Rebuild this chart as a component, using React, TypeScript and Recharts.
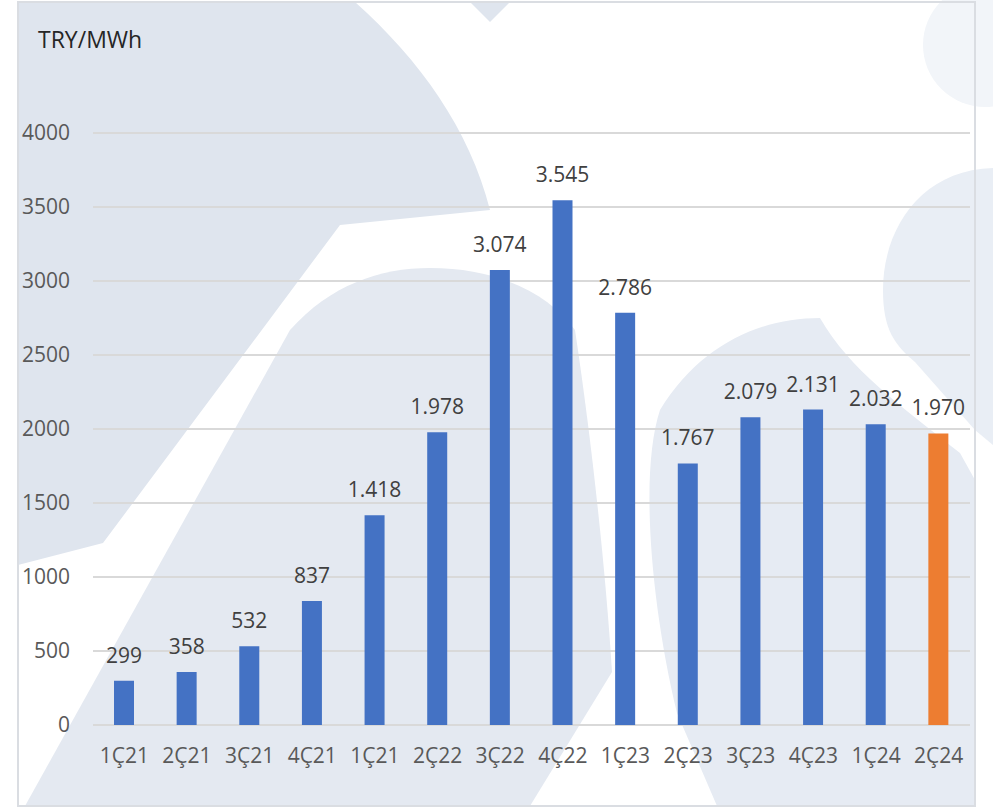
import { BarChart, Bar, XAxis, YAxis, CartesianGrid, Cell, LabelList } from 'recharts';

const categories = ['1Ç21', '2Ç21', '3Ç21', '4Ç21', '1Ç21', '2Ç22', '3Ç22', '4Ç22', '1Ç23', '2Ç23', '3Ç23', '4Ç23', '1Ç24', '2Ç24'];
const values = [299, 358, 532, 837, 1418, 1978, 3074, 3545, 2786, 1767, 2079, 2131, 2032, 1970];
const yTicks = [0, 500, 1000, 1500, 2000, 2500, 3000, 3500, 4000];
const highlightIndex = 13;

const data = categories.map((name, i) => ({ name, value: values[i] }));

const font = '"Open Sans", sans-serif';
const fmt = (v: number) => String(v).replace(/\B(?=(\d{3})+(?!\d))/g, '.');

const Background = () => (
  <svg width={993} height={810} style={{ position: 'absolute', left: 0, top: 0 }}>
    <rect x={0} y={0} width={993} height={810} fill="#ffffff" />
    <circle cx={985} cy={45} r={62} fill="#f2f5f9" />
    <path d="M18,2 L355,2 C420,60 470,130 490,210 L340,225 L103,543 L18,565 Z" fill="#dfe5ee" />
    <path d="M470,2 L510,2 L490,22 Z" fill="#dfe5ee" />
    <path d="M25,806 L290,330 C330,285 380,268 430,268 C500,268 550,295 575,330 C590,430 605,560 612,672 L530,806 Z" fill="#e4e9f1" />
    <path d="M717,806 L677,713 C650,600 640,470 660,410 C700,345 760,318 820,318 C850,370 900,405 960,453 L975,480 L975,806 Z" fill="#e6ebf3" />
    <path d="M993,168 C920,170 883,230 883,290 C883,330 895,345 915,362 L975,430 L993,445 Z" fill="#e9eef5" />
    <rect x={18} y={2} width={957} height={804} fill="none" stroke="#dadde2" strokeWidth={2} />
  </svg>
);

export default function App() {
  return (
    <div style={{ position: 'absolute', left: 0, top: 0, width: 993, height: 810, fontFamily: font }}>
      <Background />
      <div style={{ position: 'absolute', left: 38, top: 23, fontSize: 23, color: '#262626' }}>TRY/MWh</div>
      <div style={{ position: 'absolute', left: 0, top: 0 }}>
        <BarChart width={993} height={810} data={data} margin={{ top: 133, right: 23, bottom: 40, left: 0 }}>
          <CartesianGrid vertical={false} stroke="#d9d9d9" strokeWidth={2} />
          <XAxis
            dataKey="name"
            height={45}
            axisLine={false}
            tickLine={false}
            tickSize={0}
            tickMargin={23}
            interval={0}
            tick={{ fill: '#595959', fontSize: 21, fontFamily: font }}
          />
          <YAxis
            width={93}
            domain={[0, 4000]}
            ticks={yTicks}
            axisLine={false}
            tickLine={false}
            tickSize={0}
            tickMargin={23}
            tick={{ fill: '#595959', fontSize: 21, fontFamily: font }}
          />
          <Bar dataKey="value" barSize={20} isAnimationActive={false}>
            {data.map((_, i) => (
              <Cell key={i} fill={i === highlightIndex ? '#ed7d31' : '#4472c4'} />
            ))}
            <LabelList
              dataKey="value"
              position="top"
              offset={18}
              formatter={(v: any) => fmt(Number(v))}
              style={{ fill: '#404040', fontSize: 21, fontFamily: font }}
            />
          </Bar>
        </BarChart>
      </div>
    </div>
  );
}
